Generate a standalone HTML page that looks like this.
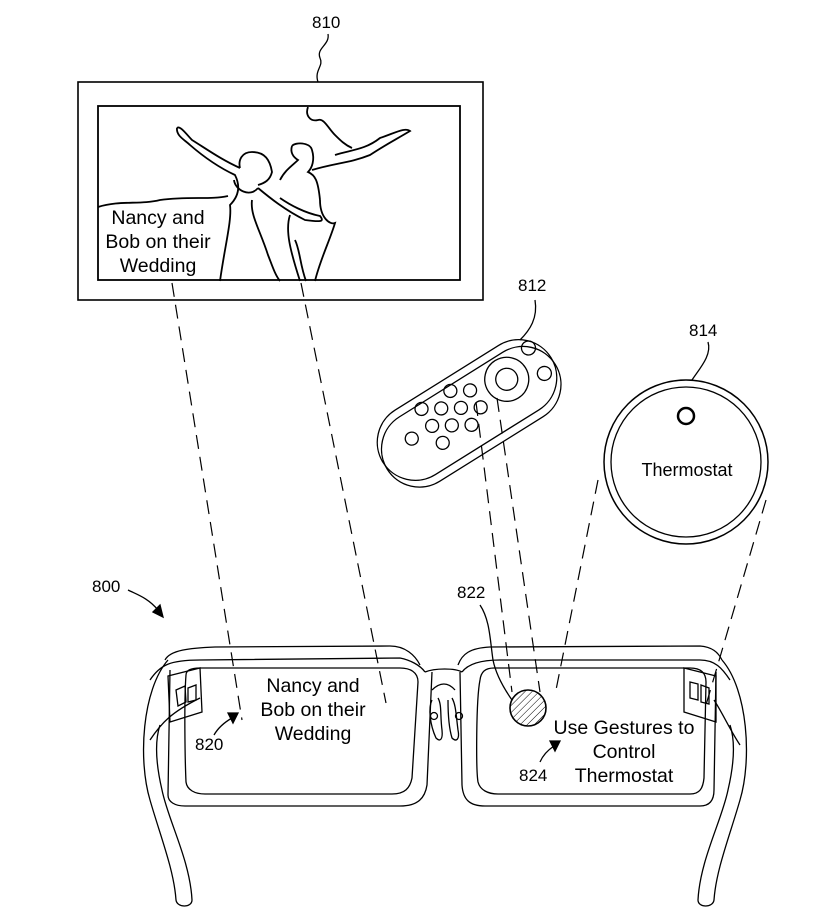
<!DOCTYPE html>
<html><head><meta charset="utf-8"><style>
html,body{margin:0;padding:0;background:#fff;}
svg{display:block;}
text{font-family:"Liberation Sans",Arial,sans-serif;fill:#000;}
</style></head><body>
<svg width="814" height="916" viewBox="0 0 814 916" xmlns="http://www.w3.org/2000/svg" fill="none" stroke="#000" stroke-width="1.3">
<!-- 810 -->
<text x="312" y="28" font-size="17" stroke="none">810</text>
<path d="M328 34 C330 45 316 48 320 58 C324 66 314 70 318 82"/>
<!-- picture -->
<rect x="78" y="82" width="405" height="218" stroke-width="1.6"/>
<rect x="98" y="106" width="362" height="174" stroke-width="1.8"/>
<g stroke-width="1.8">
<path d="M98 207 C120 200 140 205 160 200 C190 196 210 200 228 196"/>
<path d="M177 128 C176 136 185 140 190 145 C205 158 220 168 235 175 C240 185 240 195 230 205 C232 220 225 245 220 281"/>
<path d="M177 128 C180 125 187 135 192 140 C208 150 222 160 240 168"/>
<path d="M240 168 C238 160 242 152 252 152 C265 152 270 160 272 172 C270 180 265 183 258 185"/>
<path d="M234 180 C235 190 250 198 258 188"/>
<path d="M258 188 C270 198 285 210 305 220 C320 222 325 222 320 216 C305 213 290 205 280 198"/>
<path d="M252 200 C250 215 260 230 268 255 C272 265 275 275 280 281"/>
<path d="M292 146 C295 142 310 142 312 150 C315 160 312 168 308 172 C315 175 318 180 320 200"/>
<path d="M292 146 C290 152 293 157 298 160 C293 165 285 170 280 180"/>
<path d="M312 170 C335 163 350 163 370 155 C385 145 395 140 410 131 C405 127 395 133 380 138 C365 150 350 150 335 155"/>
<path d="M290 215 C285 230 290 250 300 281"/>
<path d="M320 200 C320 218 330 225 335 223 C330 240 320 260 315 281"/>
<path d="M308 107 C305 115 310 122 318 120 C324 118 328 128 335 135 C340 140 345 145 352 148"/>
<path d="M295 240 C300 250 300 265 306 281"/>
</g>
<text font-size="19.5" stroke="none" text-anchor="middle"><tspan x="158" y="224">Nancy and</tspan><tspan x="158" y="248">Bob on their</tspan><tspan x="158" y="272">Wedding</tspan></text>
<!-- dashed projections -->
<g stroke-dasharray="14,8" stroke-width="1.2">
<path d="M172 283 L242 720"/>
<path d="M301 283 L386 703"/>
<path d="M476 402 L512 692"/>
<path d="M497 398 L540 692"/>
<path d="M598 480 L556 690"/>
<path d="M766 500 L706 705"/>
</g>
<!-- 812 remote -->
<text x="518" y="291" font-size="17" stroke="none">812</text>
<path d="M535 300 C538 318 530 330 520 340"/>
<g transform="rotate(-32 467 410)">
<rect x="368" y="372" width="198" height="76" rx="38"/>
<rect x="368" y="380" width="198" height="76" rx="38"/>
<circle cx="517" cy="405" r="22"/>
<circle cx="517" cy="405" r="11"/>
<circle cx="552" cy="390" r="7"/><circle cx="552" cy="420" r="7"/>
<circle cx="480" cy="395" r="6.5"/><circle cx="480" cy="415" r="6.5"/>
<circle cx="463" cy="385" r="6.5"/><circle cx="463" cy="405" r="6.5"/><circle cx="463" cy="425" r="6.5"/>
<circle cx="446" cy="395" r="6.5"/><circle cx="446" cy="415" r="6.5"/>
<circle cx="429" cy="385" r="6.5"/><circle cx="429" cy="405" r="6.5"/><circle cx="429" cy="425" r="6.5"/>
<circle cx="405" cy="405" r="6.5"/>
</g>
<!-- 814 thermostat -->
<text x="689" y="336" font-size="17" stroke="none">814</text>
<path d="M708 342 C712 355 700 368 692 380"/>
<circle cx="686" cy="462" r="82" stroke-width="1.5"/>
<circle cx="686" cy="462" r="75"/>
<circle cx="686" cy="416" r="8" stroke-width="2.5"/>
<text x="687" y="476" font-size="18" stroke="none" text-anchor="middle">Thermostat</text>
<!-- 800 -->
<text x="92" y="592" font-size="17" stroke="none">800</text>
<path d="M128 590 C138 595 148 598 158 610"/>
<path d="M153 612 L163 617 L160 605 Z" fill="#000"/>
<!-- 822 -->
<text x="457" y="598" font-size="17" stroke="none">822</text>
<path d="M480 605 C490 620 490 640 493 660 C496 675 505 690 512 700"/>
<!-- glasses -->
<g stroke-width="1.3">
<path d="M165 660 C170 650 190 648 215 647 L390 646 C405 646 415 655 420 665"/>
<path d="M150 680 C160 665 170 660 200 660 L400 658 C410 660 420 665 425 672"/>
<path d="M170 670 L168 795 C168 802 175 806 185 806 L400 806 C418 806 425 798 427 785 L432 672"/>
<path d="M186 675 C184 700 185 760 186 782 C187 790 195 794 205 794 L392 794 C405 794 410 788 412 778 L418 682 C418 672 410 668 400 668 L200 668 C192 668 186 670 186 675"/>
<path d="M425 672 C435 668 455 668 462 672"/>
<path d="M432 690 C440 682 448 682 455 690"/>
<path d="M432 700 C428 708 430 725 436 738 C440 742 443 740 442 730 C440 715 442 705 438 698"/>
<path d="M448 700 C448 708 448 725 452 738 C456 742 460 740 458 730 C456 715 456 705 452 698"/>
<circle cx="434" cy="716" r="3.5"/><circle cx="459" cy="716" r="3.5"/>
<path d="M458 665 C462 654 470 648 490 647 L700 646 C712 647 718 652 722 660"/>
<path d="M462 672 C468 664 480 660 500 660 L700 660 C715 660 722 668 730 680"/>
<path d="M460 672 L462 785 C463 800 470 806 485 806 L700 806 C710 806 714 800 714 790 L716 672"/>
<path d="M480 680 C476 700 476 770 478 782 C480 790 488 794 498 794 L690 794 C700 794 703 788 704 778 L706 682 C706 672 700 668 690 668 L494 668 C485 668 481 672 480 680"/>
<!-- hinges -->
<path d="M168 676 L200 668 L202 712 L170 722 Z"/>
<path d="M176 690 L185 686 L186 702 L178 706 Z M188 688 L196 685 L196 700 L188 702 Z"/>
<path d="M684 668 L716 676 L716 722 L684 712 Z"/>
<path d="M690 682 L698 684 L698 700 L690 698 Z M701 685 L709 688 L709 704 L701 702 Z"/>
<!-- temples -->
<path d="M168 660 C142 690 138 760 150 800 C160 835 174 870 176 900 C177 908 192 908 192 900 C190 860 168 820 162 790 C155 760 155 740 160 725"/>
<path d="M150 740 C162 722 172 712 200 698"/>
<path d="M722 660 C748 690 752 760 740 800 C730 835 716 870 714 900 C713 908 698 908 698 900 C700 860 722 820 728 790 C735 760 735 740 730 725"/>
<path d="M740 745 C730 730 722 712 714 700"/>
</g>
<!-- lens circle 822 -->
<defs><pattern id="h" width="5" height="5" patternUnits="userSpaceOnUse" patternTransform="rotate(45)"><line x1="0" y1="0" x2="0" y2="5" stroke="#000" stroke-width="1"/></pattern></defs>
<circle cx="528" cy="708" r="18" fill="url(#h)" stroke-width="1.6"/>
<!-- lens texts -->
<text font-size="19.5" stroke="none" text-anchor="middle"><tspan x="313" y="692">Nancy and</tspan><tspan x="313" y="716">Bob on their</tspan><tspan x="313" y="740">Wedding</tspan></text>
<text x="195" y="750" font-size="17" stroke="none">820</text>
<path d="M214 735 C218 728 225 722 232 718"/>
<path d="M228 713 L238 713 L233 723 Z" fill="#000"/>
<text font-size="19.5" stroke="none" text-anchor="middle"><tspan x="624" y="734">Use Gestures to</tspan><tspan x="624" y="758">Control</tspan><tspan x="624" y="782">Thermostat</tspan></text>
<text x="519" y="781" font-size="17" stroke="none">824</text>
<path d="M540 762 C543 755 548 750 554 746"/>
<path d="M550 741 L560 741 L555 751 Z" fill="#000"/>
</svg>
</body></html>
